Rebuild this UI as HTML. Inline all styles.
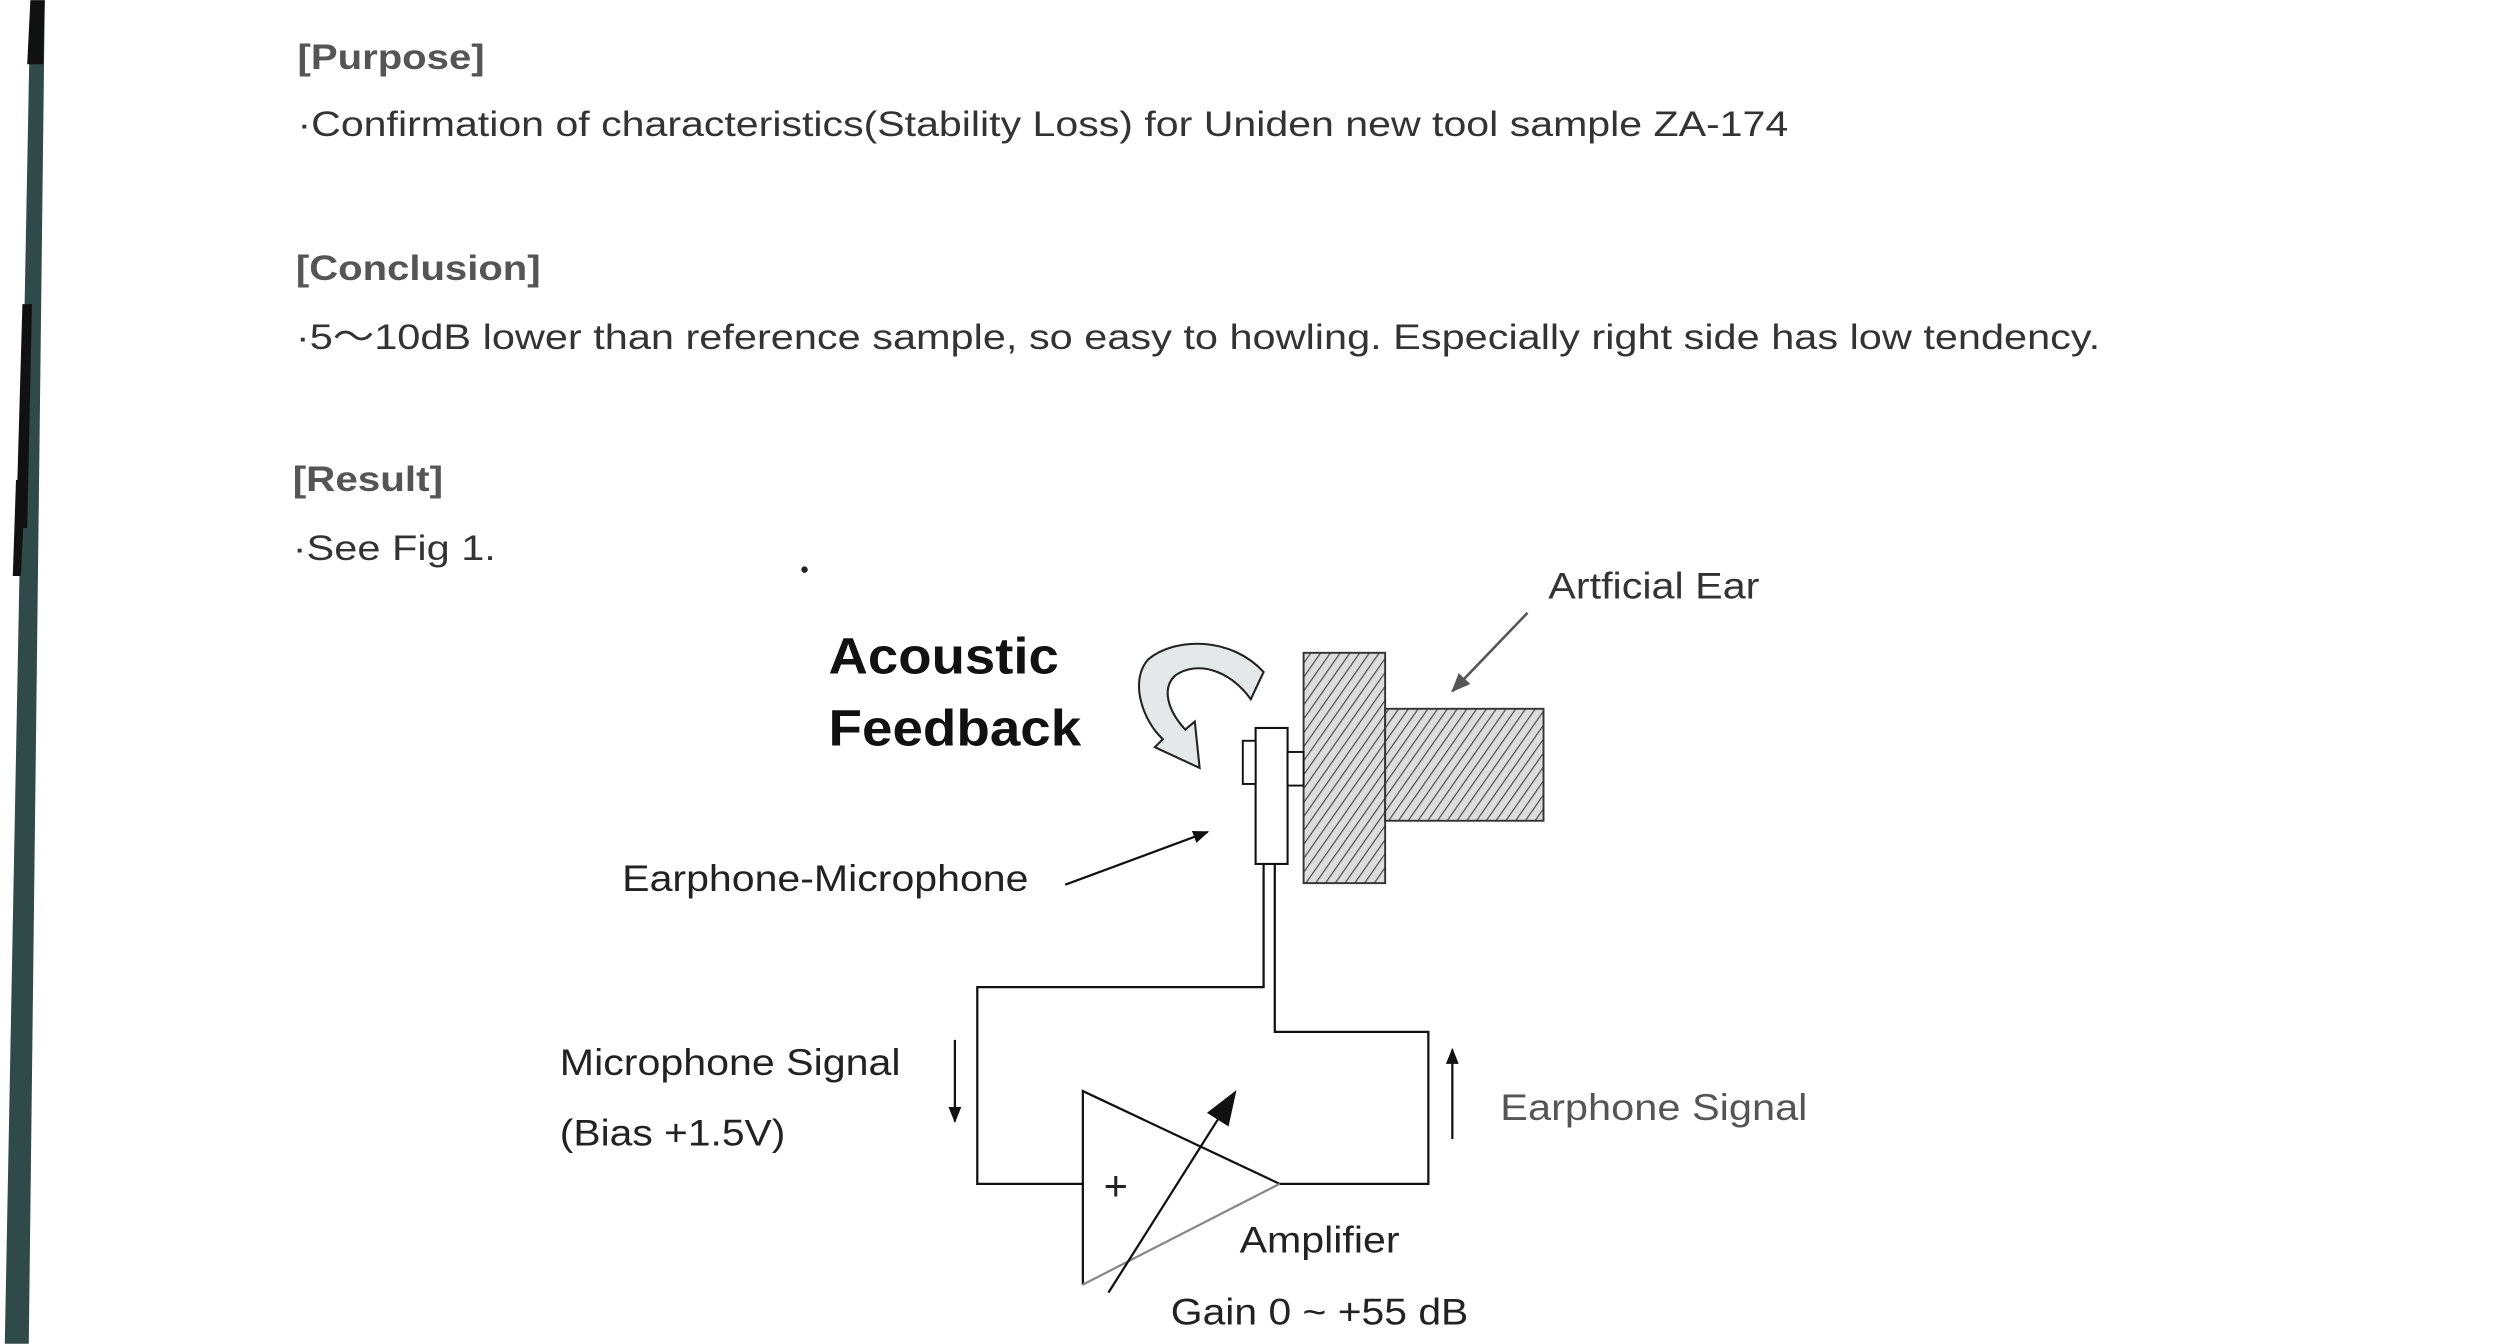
<!DOCTYPE html>
<html><head><meta charset="utf-8"><style>
html,body{margin:0;padding:0;background:#fff;}
svg{display:block;}
text{font-family:"Liberation Sans",Arial,sans-serif;}
</style></head><body>
<svg width="2508" height="1344" viewBox="0 0 1568 840" xmlns="http://www.w3.org/2000/svg">
<defs>
<pattern id="h" width="5" height="5" patternUnits="userSpaceOnUse" patternTransform="rotate(35)">
<rect width="5" height="5" fill="#ddd"/>
<line x1="0" y1="0" x2="0" y2="5" stroke="#555" stroke-width="1.6"/>
</pattern>
<marker id="ah" markerWidth="10" markerHeight="10" refX="9" refY="5" orient="auto" markerUnits="userSpaceOnUse">
<path d="M0,1 L10,5 L0,9 Z" fill="#111"/>
</marker>
<marker id="ahg" markerWidth="12" markerHeight="12" refX="11" refY="6" orient="auto" markerUnits="userSpaceOnUse">
<path d="M0,1 L12,6 L0,11 Z" fill="#555"/>
</marker>
<marker id="big" markerWidth="22" markerHeight="20" refX="20" refY="10" orient="auto" markerUnits="userSpaceOnUse">
<path d="M0,2 L22,10 L0,18 Z" fill="#111"/>
</marker>
</defs>
<rect width="1568" height="840" fill="#fff"/>
<polygon points="19,0 28,0 18,840 3,840" fill="#2f4a48"/>
<polygon points="19,0 28,0 27,40 17,40" fill="#111"/>
<polygon points="14,190 20,190 17,330 10,330" fill="#111"/>
<polygon points="10,300 16,300 13,360 8,360" fill="#111"/>

<g fill="#555" font-size="22" lengthAdjust="spacingAndGlyphs">
<text x="186" y="43" font-weight="bold" textLength="117" lengthAdjust="spacingAndGlyphs">[Purpose]</text>
<text x="186" y="85" fill="#333" textLength="932" lengthAdjust="spacingAndGlyphs">·Confirmation of characteristics(Stability Loss) for Uniden new tool sample ZA-174</text>
<text x="185" y="175" font-weight="bold" textLength="153" lengthAdjust="spacingAndGlyphs">[Conclusion]</text>
<text x="185" y="218" fill="#333" textLength="1128" lengthAdjust="spacingAndGlyphs">·5～10dB lower than reference  sample, so easy to howling. Especially right side has low tendency.</text>
<text x="183" y="307" font-weight="bold" textLength="94" lengthAdjust="spacingAndGlyphs">[Result]</text>
<text x="183" y="350" fill="#333" textLength="127" lengthAdjust="spacingAndGlyphs">·See Fig 1.</text>
</g>

<text x="518" y="421" font-size="32" font-weight="bold" fill="#111" textLength="144" lengthAdjust="spacingAndGlyphs">Acoustic</text>
<text x="518" y="466" font-size="32" font-weight="bold" fill="#111" textLength="158" lengthAdjust="spacingAndGlyphs">Feedback</text>
<text x="968" y="374" font-size="23" fill="#333" textLength="132" lengthAdjust="spacingAndGlyphs">Artficial Ear</text>
<line x1="955" y1="383" x2="908" y2="432" stroke="#555" stroke-width="1.6" marker-end="url(#ahg)"/>

<rect x="815" y="408" width="51" height="144" fill="url(#h)" stroke="#333" stroke-width="1.2"/>
<rect x="866" y="443" width="99" height="70" fill="url(#h)" stroke="#333" stroke-width="1.2"/>
<rect x="785" y="455" width="20" height="85" fill="#fff" stroke="#111" stroke-width="1.3"/>
<rect x="777" y="463" width="8" height="27" fill="#fff" stroke="#111" stroke-width="1.2"/>
<rect x="805" y="470" width="10" height="21" fill="#fff" stroke="#111" stroke-width="1.2"/>

<path d="M790,420 C770,398 735,398 718,412 C706,425 714,450 727,462 L722,467 L750,480 L747,451 L741,456 C730,444 726,430 735,422 C748,413 768,418 782,437 Z" fill="#e4e8e8" stroke="#222" stroke-width="1.3"/>

<text x="389" y="557" font-size="23" fill="#222" textLength="254" lengthAdjust="spacingAndGlyphs">Earphone-Microphone</text>
<line x1="666" y1="553" x2="755" y2="520" stroke="#111" stroke-width="1.4" marker-end="url(#ah)"/>

<polyline points="790,540 790,617 611,617 611,740 677,740" fill="none" stroke="#111" stroke-width="1.4"/>
<polyline points="797,540 797,645 893,645 893,740 800,740" fill="none" stroke="#111" stroke-width="1.4"/>

<polyline points="800,740 677,682 677,803" fill="none" stroke="#111" stroke-width="1.4"/>
<line x1="677" y1="803" x2="800" y2="740" stroke="#888" stroke-width="1.4"/>
<text x="690" y="750" font-size="26" fill="#222">+</text>
<line x1="693" y1="808" x2="772" y2="683" stroke="#111" stroke-width="1.4" marker-end="url(#big)"/>
<text x="775" y="783" font-size="23" fill="#222" textLength="100" lengthAdjust="spacingAndGlyphs">Amplifier</text>
<text x="732" y="828" font-size="23" fill="#222" textLength="186" lengthAdjust="spacingAndGlyphs">Gain 0 ~ +55 dB</text>

<line x1="597" y1="650" x2="597" y2="701" stroke="#111" stroke-width="1.4" marker-end="url(#ah)"/>
<line x1="908" y1="712" x2="908" y2="656" stroke="#111" stroke-width="1.4" marker-end="url(#ah)"/>
<text x="350" y="672" font-size="23" fill="#222" textLength="213" lengthAdjust="spacingAndGlyphs">Microphone Signal</text>
<text x="350" y="716" font-size="23" fill="#222" textLength="141" lengthAdjust="spacingAndGlyphs">(Bias +1.5V)</text>
<text x="938" y="700" font-size="23" fill="#555" textLength="192" lengthAdjust="spacingAndGlyphs">Earphone Signal</text>
<circle cx="503" cy="356" r="2" fill="#222"/>
</svg>
</body></html>
